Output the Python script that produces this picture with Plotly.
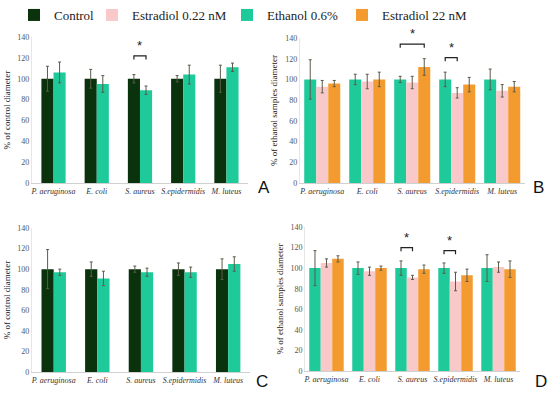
import plotly.graph_objects as go

bacteria = ["P. aeruginosa", "E. coli", "S. aureus", "S.epidermidis", "M. luteus"]
tick_labels = ["<i>" + b + "</i>" for b in bacteria]
y_ticks = [0, 20, 40, 60, 80, 100, 120, 140]

# Panel A
a_control = [100, 100, 100, 100, 100]
a_control_err = [12, 9, 4, 3, 13]
a_ethanol = [106, 95, 89, 104, 111]
a_ethanol_err = [10, 8, 4, 9, 4]

# Panel B (relative to ethanol)
b_ethanol = [100, 100, 100, 100, 100]
b_ethanol_err = [19, 5, 3, 7, 10]
b_e022 = [93, 98, 97, 87, 89]
b_e022_err = [6, 7, 6, 5, 6]
b_e22 = [96, 100, 112, 95, 93]
b_e22_err = [3, 7, 8, 7, 5]

# Panel C
c_control = [100, 100, 100, 100, 100]
c_control_err = [19, 7, 3, 6, 10]
c_ethanol = [97, 91, 97, 97, 105]
c_ethanol_err = [3, 7, 4, 5, 7]

# Panel D
d_ethanol = [100, 100, 100, 100, 100]
d_ethanol_err = [17, 6, 7, 5, 13]
d_e022 = [105, 97, 91, 87, 101]
d_e022_err = [4, 4, 2, 9, 5]
d_e22 = [109, 100, 99, 93, 99]
d_e22_err = [3, 2, 4, 6, 8]

# significance brackets: (panel, category index, bar a, bar b, y level)
brackets = [
    ("A", 2, 0, 1, 122),
    ("B", 2, 0, 2, 134),
    ("B", 3, 0, 1, 121),
    ("D", 2, 0, 1, 120),
    ("D", 3, 0, 1, 117),
]

C_CONTROL = "#0a320c"
C_ETH = "#1ec99a"
C_E022 = "#f9c9c9"
C_E22 = "#f39b2f"
ERR = "#5b5b4a"
SERIF = "Liberation Serif, Times New Roman, serif"

fig = go.Figure()

panels = {
    "A": dict(xa="x", ya="y", xd=[0.058, 0.451], yd=[0.5355, 0.906],
              title="% of control diameter"),
    "B": dict(xa="x2", ya="y2", xd=[0.545, 0.954], yd=[0.5355, 0.9036],
              title="% of ethanol samples diameter"),
    "C": dict(xa="x3", ya="y3", xd=[0.058, 0.4545], yd=[0.0558, 0.4213],
              title="% of control diameter"),
    "D": dict(xa="x4", ya="y4", xd=[0.5545, 0.9455], yd=[0.0584, 0.4239],
              title="% of ethanol samples diameter"),
}

two_w = 0.28
three_w = 0.267
two_off = [-two_w, 0]
three_off = [-1.5 * three_w, -0.5 * three_w, 0.5 * three_w]

legend_of = {"Control": "legend", "Estradiol 0.22 nM": "legend2",
             "Ethanol 0.6%": "legend3", "Estradiol 22 nM": "legend4"}

def add_bar(panel, name, vals, errs, color, off, w, show):
    p = panels[panel]
    fig.add_trace(go.Bar(
        x=list(range(len(bacteria))), y=vals, name=name,
        marker=dict(color=color, line=dict(width=0)),
        offset=off, width=w,
        error_y=dict(type="data", array=errs, color=ERR, thickness=1, width=1.5),
        xaxis=p["xa"], yaxis=p["ya"], showlegend=show, legend=legend_of[name],
        legendgroup=name,
    ))

add_bar("A", "Control", a_control, a_control_err, C_CONTROL, two_off[0], two_w, True)
add_bar("A", "Ethanol 0.6%", a_ethanol, a_ethanol_err, C_ETH, two_off[1], two_w, True)
add_bar("B", "Ethanol 0.6%", b_ethanol, b_ethanol_err, C_ETH, three_off[0], three_w, False)
add_bar("B", "Estradiol 0.22 nM", b_e022, b_e022_err, C_E022, three_off[1], three_w, True)
add_bar("B", "Estradiol 22 nM", b_e22, b_e22_err, C_E22, three_off[2], three_w, True)
add_bar("C", "Control", c_control, c_control_err, C_CONTROL, two_off[0], two_w, False)
add_bar("C", "Ethanol 0.6%", c_ethanol, c_ethanol_err, C_ETH, two_off[1], two_w, False)
add_bar("D", "Ethanol 0.6%", d_ethanol, d_ethanol_err, C_ETH, three_off[0], three_w, False)
add_bar("D", "Estradiol 0.22 nM", d_e022, d_e022_err, C_E022, three_off[1], three_w, False)
add_bar("D", "Estradiol 22 nM", d_e22, d_e22_err, C_E22, three_off[2], three_w, False)

layout = dict(
    width=550, height=394, margin=dict(l=0, r=0, t=0, b=0, autoexpand=False),
    paper_bgcolor="white", plot_bgcolor="white", barmode="overlay",
    font=dict(family=SERIF, color="#333"),
)
legend_x_px = {"legend": 14, "legend2": 92, "legend3": 227, "legend4": 342}
for lg, xp in legend_x_px.items():
    layout[lg] = dict(orientation="h", x=xp / 550, y=1.0, yanchor="top", xanchor="left",
                      font=dict(family=SERIF, size=13, color="#222"),
                      bgcolor="rgba(0,0,0,0)", itemclick=False)

for i, (k, p) in enumerate(panels.items()):
    sfx = "" if i == 0 else str(i + 1)
    layout["xaxis" + sfx] = dict(
        domain=p["xd"], anchor=p["ya"], range=[-0.5, 4.5], automargin=False,
        tickmode="array", tickvals=list(range(len(bacteria))), ticktext=tick_labels,
        tickfont=dict(family=SERIF, size=8, color="#333"),
        showline=True, linecolor="#d0d0d0", linewidth=1, ticks="",
        showgrid=False, zeroline=False, fixedrange=True,
    )
    layout["yaxis" + sfx] = dict(
        domain=p["yd"], anchor=p["xa"], range=[0, 140], automargin=False,
        tickmode="array", tickvals=y_ticks,
        tickfont=dict(family=SERIF, size=8, color="#555"),
        showline=True, linecolor="#e6e6e6", linewidth=1, ticks="",
        showgrid=False, zeroline=False,
        title=dict(text=p["title"], font=dict(family=SERIF, size=9, color="#222"), standoff=5),
    )
fig.update_layout(**layout)

# significance brackets
for panel, cat, ba, bb, yv in brackets:
    p = panels[panel]
    if panel in ("A", "C"):
        centers = [cat + o + two_w / 2 for o in two_off]
    else:
        centers = [cat + o + three_w / 2 for o in three_off]
    x0, x1 = centers[ba], centers[bb]
    fig.add_shape(type="path",
                  path=f"M {x0},{yv-3.5} L {x0},{yv} L {x1},{yv} L {x1},{yv-3.5}",
                  xref=p["xa"], yref=p["ya"], line=dict(color="#222", width=1.2))
    fig.add_annotation(x=(x0 + x1) / 2, y=yv + 1, text="*", showarrow=False,
                       xref=p["xa"], yref=p["ya"], yanchor="bottom",
                       font=dict(family="Liberation Sans", size=13, color="#222"))

# panel letters (pixel centres converted to paper)
letters = [("A", 264, 187), ("B", 538, 187), ("C", 262, 381), ("D", 541, 381)]
for t, xp, yp in letters:
    fig.add_annotation(x=xp / 550, y=1 - yp / 394, xref="paper", yref="paper", text=t,
                       showarrow=False, xanchor="center", yanchor="middle",
                       font=dict(family="Liberation Sans", size=17, color="#111"))

fig.write_html("out.html", config={"displayModeBar": False},
               post_script="document.body.style.margin='0';")
